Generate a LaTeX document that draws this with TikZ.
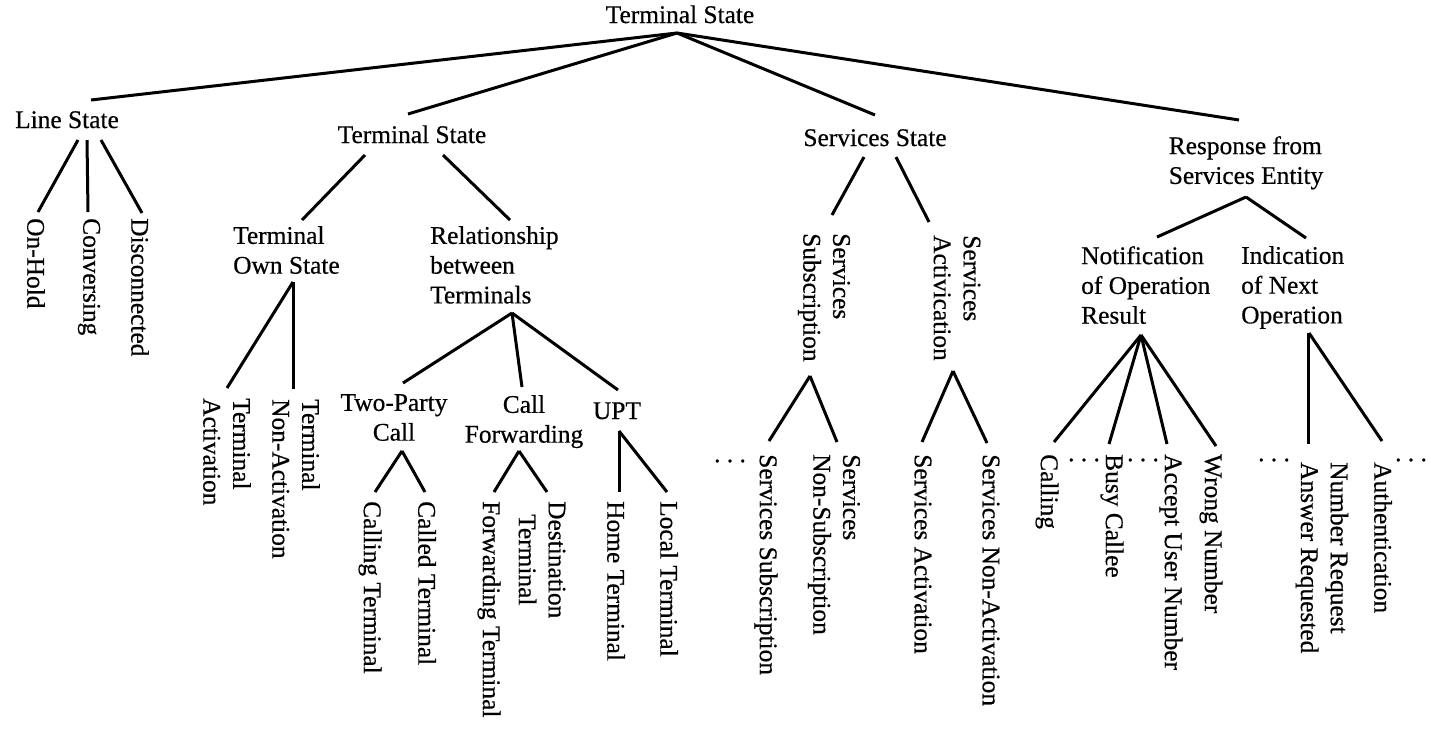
\documentclass[tikz,border=0pt]{standalone}
\usepackage{fontspec}
\setmainfont{Liberation Serif}[FakeBold=0.5]
\usetikzlibrary{calc}
\begin{document}
\begin{tikzpicture}[x=1pt,y=-1pt]
\tikzset{
  lbl/.style={inner sep=0pt, font=\fontsize{25.4}{29.8}\selectfont},
  leaf/.style={lbl, rotate=-90, anchor=west},
  conn/.style={line width=3pt},
  dotsnode/.style={lbl, anchor=center}
}
\useasboundingbox (0,0) rectangle (1431,732);
% level 0 and 1
\node[lbl, anchor=base] (root) at (680,23) {Terminal State};
\node[lbl, anchor=base] (ls) at (67,128) {Line State};
\node[lbl, anchor=base] (ts) at (412,143) {Terminal State};
\node[lbl, anchor=base] (ss) at (875,146) {Services State};
\node[lbl, anchor=north, align=left] (rse) at (1246,136) {Response from\\Services Entity};
% line state leaves
\node[leaf] (onhold) at (36,218) {On-Hold};
\node[leaf] (conv) at (89,218) {Conversing};
\node[leaf] (disc) at (140,218) {Disconnected};
% terminal state subtree
\node[lbl, anchor=north west, align=left] (tos) at (233,226) {Terminal\\Own State};
\node[lbl, anchor=north west, align=left] (rbt) at (430,226) {Relationship\\between\\Terminals};
\node[leaf, align=left] (tact) at (227,398) {Terminal\\Activation};
\node[leaf, align=left] (tnact) at (296,399) {Terminal\\Non-Activation};
\node[lbl, anchor=north, align=center] (tpc) at (394,394) {Two-Party\\Call};
\node[lbl, anchor=north, align=center] (cf) at (524,395) {Call\\Forwarding};
\node[lbl, anchor=base] (upt) at (617,419) {UPT};
\node[leaf] (callingT) at (370,501) {Calling Terminal};
\node[leaf] (calledT) at (427,501) {Called Terminal};
\node[leaf] (fwdT) at (489,501) {Forwarding Terminal};
\node[leaf, align=center] (destT) at (542,501) {Destination\\Terminal};
\node[leaf] (homeT) at (616,501) {Home Terminal};
\node[leaf] (localT) at (669,501) {Local Terminal};
% services state subtree
\node[leaf, align=left] (ssub) at (824,233) {Services\\Subscription};
\node[leaf, align=left] (sact) at (957,235) {Services\\Activication};
\node[leaf] (servSub) at (766,454) {Services Subscription};
\node[leaf, align=left] (servNonSub) at (834,454) {Services\\Non-Subscription};
\node[leaf] (servAct) at (923,454) {Services Activation};
\node[leaf] (servNonAct) at (991,454) {Services Non-Activation};
% response subtree
\node[lbl, anchor=north west, align=left] (nor) at (1081,246) {Notification\\of Operation\\Result};
\node[lbl, anchor=north west, align=left] (ino) at (1241,246) {Indication\\of Next\\Operation};
\node[leaf] (calling) at (1047,454) {Calling};
\node[leaf] (busy) at (1112,454) {Busy Callee};
\node[leaf] (accept) at (1171,454) {Accept User Number};
\node[leaf] (wrong) at (1211,454) {Wrong Number};
\node[leaf, align=left] (numreq) at (1322,462) {Number Request\\Answer Requested};
\node[leaf] (auth) at (1383,462) {Authentication};
% dots
\node[dotsnode] (d1) at (730,461) {.\ .\ .};
\node[dotsnode] (d2) at (1084,460) {.\ .\ .};
\node[dotsnode] (d3) at (1143,460) {.\ .\ .};
\node[dotsnode] (d4) at (1274,460) {.\ .\ .};
\node[dotsnode] (d5) at (1411,460) {.\ .\ .};
% connectors
\draw[conn] ($(root.base)+(-3,10)$) -- ($(ls.base)+(24,-28)$);
\draw[conn] ($(root.base)+(-3,10)$) -- ($(ts.base)+(-4,-29)$);
\draw[conn] ($(root.base)+(-3,10)$) -- ($(ss.base)+(0,-31)$);
\draw[conn] ($(root.base)+(-3,10)$) -- ($(rse.north)+(-7,-16)$);
\draw[conn] ($(ls.base)+(11,12)$) -- ($(onhold.west)+(2,-6)$);
\draw[conn] ($(ls.base)+(20,12)$) -- ($(conv.west)+(-1,-6)$);
\draw[conn] ($(ls.base)+(34,12)$) -- ($(disc.west)+(2,-5)$);
\draw[conn] ($(ts.base)+(-47,12)$) -- ($(tos.north west)+(69,-6)$);
\draw[conn] ($(ts.base)+(31,12)$) -- ($(rbt.north west)+(80,-6)$);
\draw[conn] ($(tos.north west)+(60,56)$) -- ($(tact.west)+(0,-10)$);
\draw[conn] ($(tos.north west)+(60,56)$) -- ($(tnact.west)+(-3,-10)$);
\draw[conn] ($(rbt.north west)+(82,87)$) -- ($(tpc.north)+(9,-11)$);
\draw[conn] ($(rbt.north west)+(82,87)$) -- ($(cf.north)+(-2,-8)$);
\draw[conn] ($(rbt.north west)+(82,87)$) -- ($(upt.base)+(1,-29)$);
\draw[conn] ($(tpc.north)+(8,57)$) -- ($(callingT.west)+(5,-9)$);
\draw[conn] ($(tpc.north)+(8,57)$) -- ($(calledT.west)+(-2,-9)$);
\draw[conn] ($(cf.north)+(-5,56)$) -- ($(fwdT.west)+(5,-9)$);
\draw[conn] ($(cf.north)+(-5,56)$) -- ($(destT.west)+(5,-9)$);
\draw[conn] ($(upt.base)+(2,12)$) -- ($(homeT.west)+(3,-9)$);
\draw[conn] ($(upt.base)+(2,12)$) -- ($(localT.west)+(-2,-9)$);
\draw[conn] ($(ss.base)+(-11,11)$) -- ($(ssub.west)+(8,-18)$);
\draw[conn] ($(ss.base)+(21,11)$) -- ($(sact.west)+(-28,-13)$);
\draw[conn] ($(ssub.west)+(-14,143)$) -- ($(servSub.west)+(3,-13)$);
\draw[conn] ($(ssub.west)+(-14,143)$) -- ($(servNonSub.west)+(3,-12)$);
\draw[conn] ($(sact.west)+(-4,136)$) -- ($(servAct.west)+(-1,-12)$);
\draw[conn] ($(sact.west)+(-4,136)$) -- ($(servNonAct.west)+(-4,-11)$);
\draw[conn] ($(rse.north)+(0,61)$) -- ($(nor.north west)+(76,-9)$);
\draw[conn] ($(rse.north)+(0,61)$) -- ($(ino.north west)+(65,-8)$);
\draw[conn] ($(nor.north west)+(60,89)$) -- ($(calling.west)+(7,-12)$);
\draw[conn] ($(nor.north west)+(60,89)$) -- ($(busy.west)+(-3,-10)$);
\draw[conn] ($(nor.north west)+(60,89)$) -- ($(accept.west)+(-4,-10)$);
\draw[conn] ($(nor.north west)+(60,89)$) -- ($(wrong.west)+(5,-8)$);
\draw[conn] ($(ino.north west)+(67,87)$) -- ($(numreq.west)+(-14,-18)$);
\draw[conn] ($(ino.north west)+(68,87)$) -- ($(auth.west)+(-1,-21)$);
\end{tikzpicture}
\end{document}
